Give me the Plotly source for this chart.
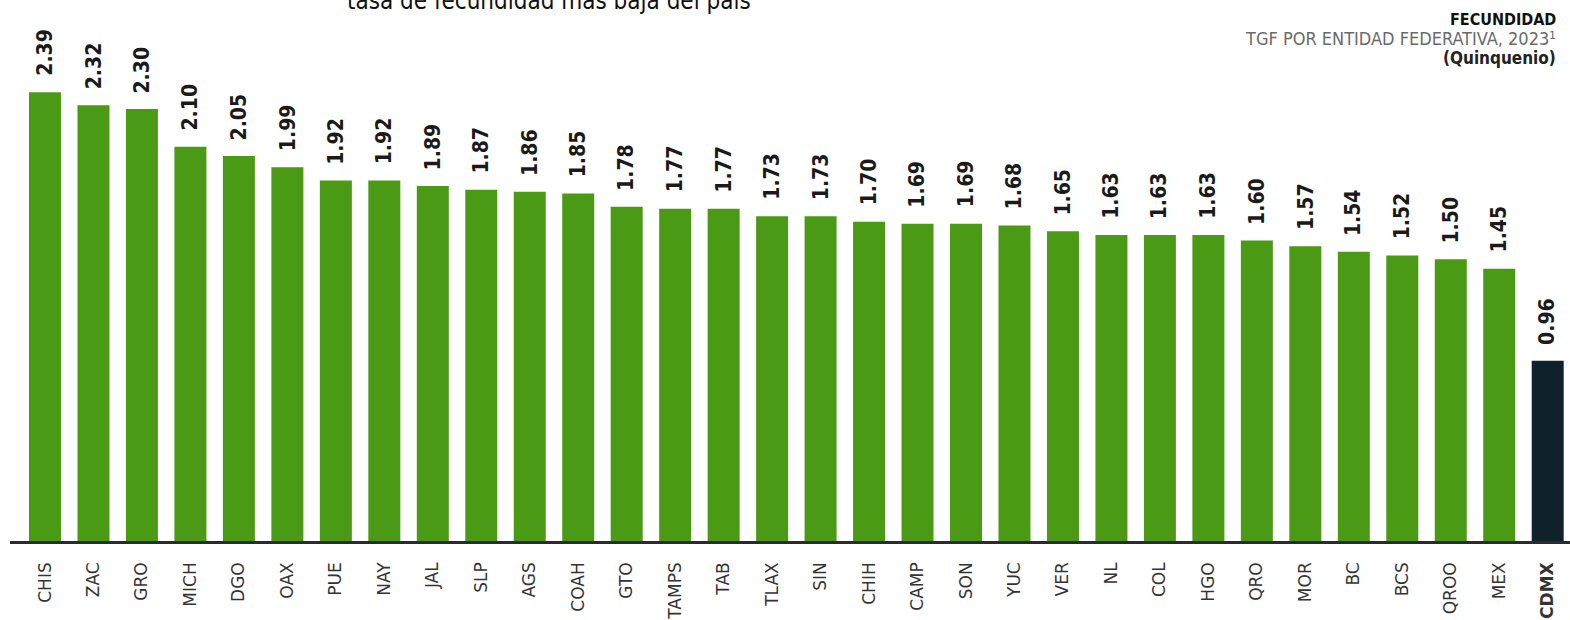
import plotly.graph_objects as go

states = ["CHIS", "ZAC", "GRO", "MICH", "DGO", "OAX", "PUE", "NAY", "JAL", "SLP",
          "AGS", "COAH", "GTO", "TAMPS", "TAB", "TLAX", "SIN", "CHIH", "CAMP", "SON",
          "YUC", "VER", "NL", "COL", "HGO", "QRO", "MOR", "BC", "BCS", "QROO", "MEX", "CDMX"]
tgf = [2.39, 2.32, 2.30, 2.10, 2.05, 1.99, 1.92, 1.92, 1.89, 1.87,
       1.86, 1.85, 1.78, 1.77, 1.77, 1.73, 1.73, 1.70, 1.69, 1.69,
       1.68, 1.65, 1.63, 1.63, 1.63, 1.60, 1.57, 1.54, 1.52, 1.50, 1.45, 0.96]
highlight = "CDMX"

GREEN = "#4b9a15"
DARK = "#0f212b"
FONT = "DejaVu Sans Condensed"

colors = [DARK if s == highlight else GREEN for s in states]
ticktext = [f"<b>{s}</b>" if s == highlight else s for s in states]

fig = go.Figure()
fig.add_trace(go.Bar(
    x=states, y=tgf, marker=dict(color=colors, line=dict(width=0)),
    hoverinfo="skip", showlegend=False,
))

annotations = []
for s, v in zip(states, tgf):
    annotations.append(dict(
        x=s, y=v, xref="x", yref="y", text=f"<b>{v:.2f}</b>",
        textangle=-90, showarrow=False, xanchor="center", yanchor="bottom",
        yshift=14, font=dict(family=FONT, size=21, color="#1a1a1a"),
    ))

annotations += [
    dict(x=1, y=1, xref="paper", yref="paper", xanchor="right", yanchor="middle",
         xshift=-12, yshift=-19, showarrow=False, text="<b>FECUNDIDAD</b>",
         font=dict(family=FONT, size=16, color="#111111")),
    dict(x=1, y=1, xref="paper", yref="paper", xanchor="right", yanchor="middle",
         xshift=-12, yshift=-38, showarrow=False, text="TGF POR ENTIDAD FEDERATIVA, 2023¹",
         font=dict(family=FONT, size=18, color="#6a6a6a")),
    dict(x=1, y=1, xref="paper", yref="paper", xanchor="right", yanchor="middle",
         xshift=-12, yshift=-58, showarrow=False, text="<b>(Quinquenio)</b>",
         font=dict(family=FONT, size=17, color="#222222")),
    dict(x=0, y=1, xref="paper", yref="paper", xanchor="left", yanchor="bottom",
         xshift=335, yshift=-17, showarrow=False,
         text="tasa de fecundidad más baja del país",
         font=dict(family=FONT, size=24, color="#111111")),
]

fig.update_layout(
    width=1570, height=620,
    margin=dict(l=10, r=0, t=0, b=74),
    paper_bgcolor="white", plot_bgcolor="white",
    bargap=0.34,
    annotations=annotations,
    xaxis=dict(
        range=[-0.722, 31.46], tickmode="array", tickvals=states, ticktext=ticktext,
        tickangle=-90, ticks="", showgrid=False, showline=True, linecolor="#2b2b2b",
        linewidth=2.5, ticklabelstandoff=12,
        tickfont=dict(family="DejaVu Sans", size=17, color="#333333"),
    ),
    yaxis=dict(range=[0, 2.881], visible=False, showgrid=False, zeroline=False),
)

fig.write_html(
    "out.html",
    config={"displayModeBar": False, "staticPlot": True},
    post_script="document.body.style.margin='0';document.body.style.overflow='hidden';",
)
